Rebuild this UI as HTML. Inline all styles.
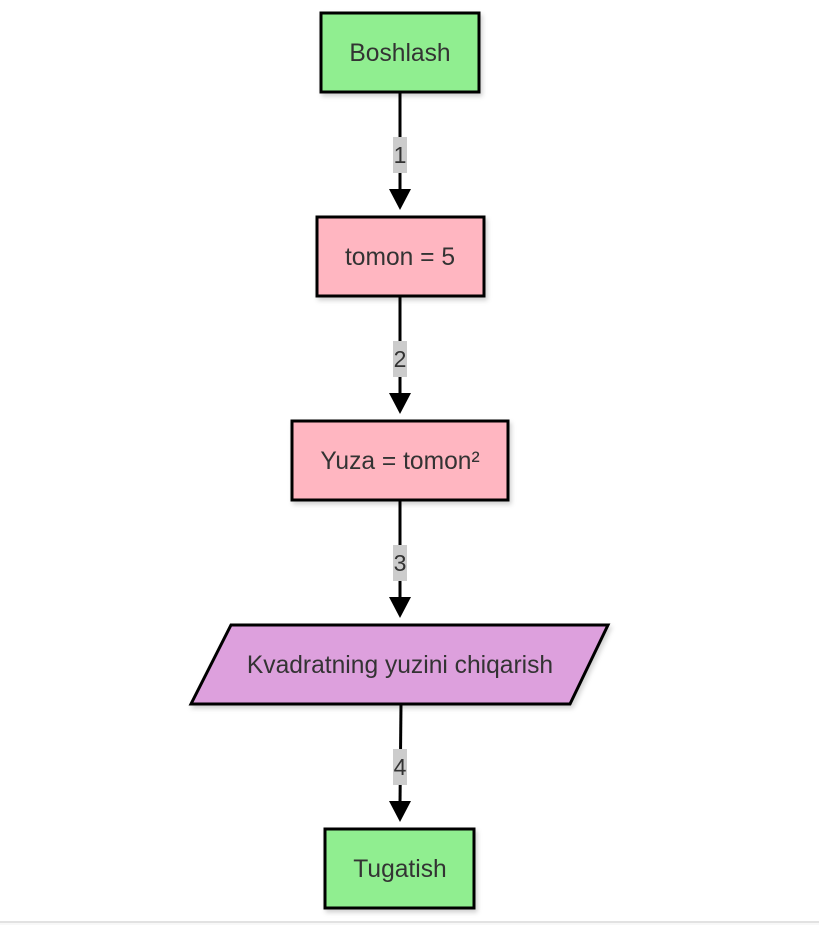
<!DOCTYPE html>
<html><head><meta charset="utf-8"><style>
html,body{margin:0;padding:0;background:#fff;width:819px;height:925px;overflow:hidden}
text{font-family:"Liberation Sans",Arial,sans-serif;fill:#333}
</style></head><body>
<svg width="819" height="925" viewBox="0 0 819 925" xmlns="http://www.w3.org/2000/svg">
<defs><filter id="s" x="-10%" y="-10%" width="130%" height="140%"><feDropShadow dx="2" dy="3" stdDeviation="2.5" flood-color="#000" flood-opacity="0.18"/></filter></defs>
<rect x="0" y="921" width="819" height="2" fill="#e2e2e2"/>
<rect x="0" y="923" width="819" height="2" fill="#f8f8f8"/>
<g stroke="#000" stroke-width="3">
<line x1="400" y1="92" x2="400" y2="192"/>
<line x1="400" y1="296" x2="400" y2="396"/>
<line x1="400" y1="500" x2="400" y2="600"/>
<line x1="401" y1="704" x2="400" y2="804"/>
</g>
<g fill="#000">
<polygon points="389,189 411,189 400,210"/>
<polygon points="389,393 411,393 400,414"/>
<polygon points="389,597 411,597 400,618"/>
<polygon points="389,801 411,801 400,822"/>
</g>
<g fill="#cccccc">
<rect x="393" y="137" width="14" height="36"/>
<rect x="393" y="341" width="14" height="36"/>
<rect x="393" y="545" width="14" height="36"/>
<rect x="393" y="749" width="14" height="36"/>
</g>
<g font-size="23" text-anchor="middle">
<text x="400" y="163">1</text>
<text x="400" y="367">2</text>
<text x="400" y="571">3</text>
<text x="400" y="775">4</text>
</g>
<g stroke="#000" stroke-width="3" filter="url(#s)">
<rect x="321" y="13" width="158" height="79" fill="#90ee90"/>
<rect x="317" y="217" width="167" height="79" fill="#ffb6c1"/>
<rect x="292" y="421" width="216" height="79" fill="#ffb6c1"/>
<polygon points="231,625 608,625 570,704 191,704" fill="#dda0dd"/>
<rect x="325" y="829" width="149" height="79" fill="#90ee90"/>
</g>
<g font-size="24.6" text-anchor="middle">
<text x="400" y="61">Boshlash</text>
<text x="400" y="265">tomon = 5</text>
<text x="400" y="469">Yuza = tomon²</text>
<text x="400" y="673">Kvadratning yuzini chiqarish</text>
<text x="400" y="877">Tugatish</text>
</g>
</svg>
</body></html>
